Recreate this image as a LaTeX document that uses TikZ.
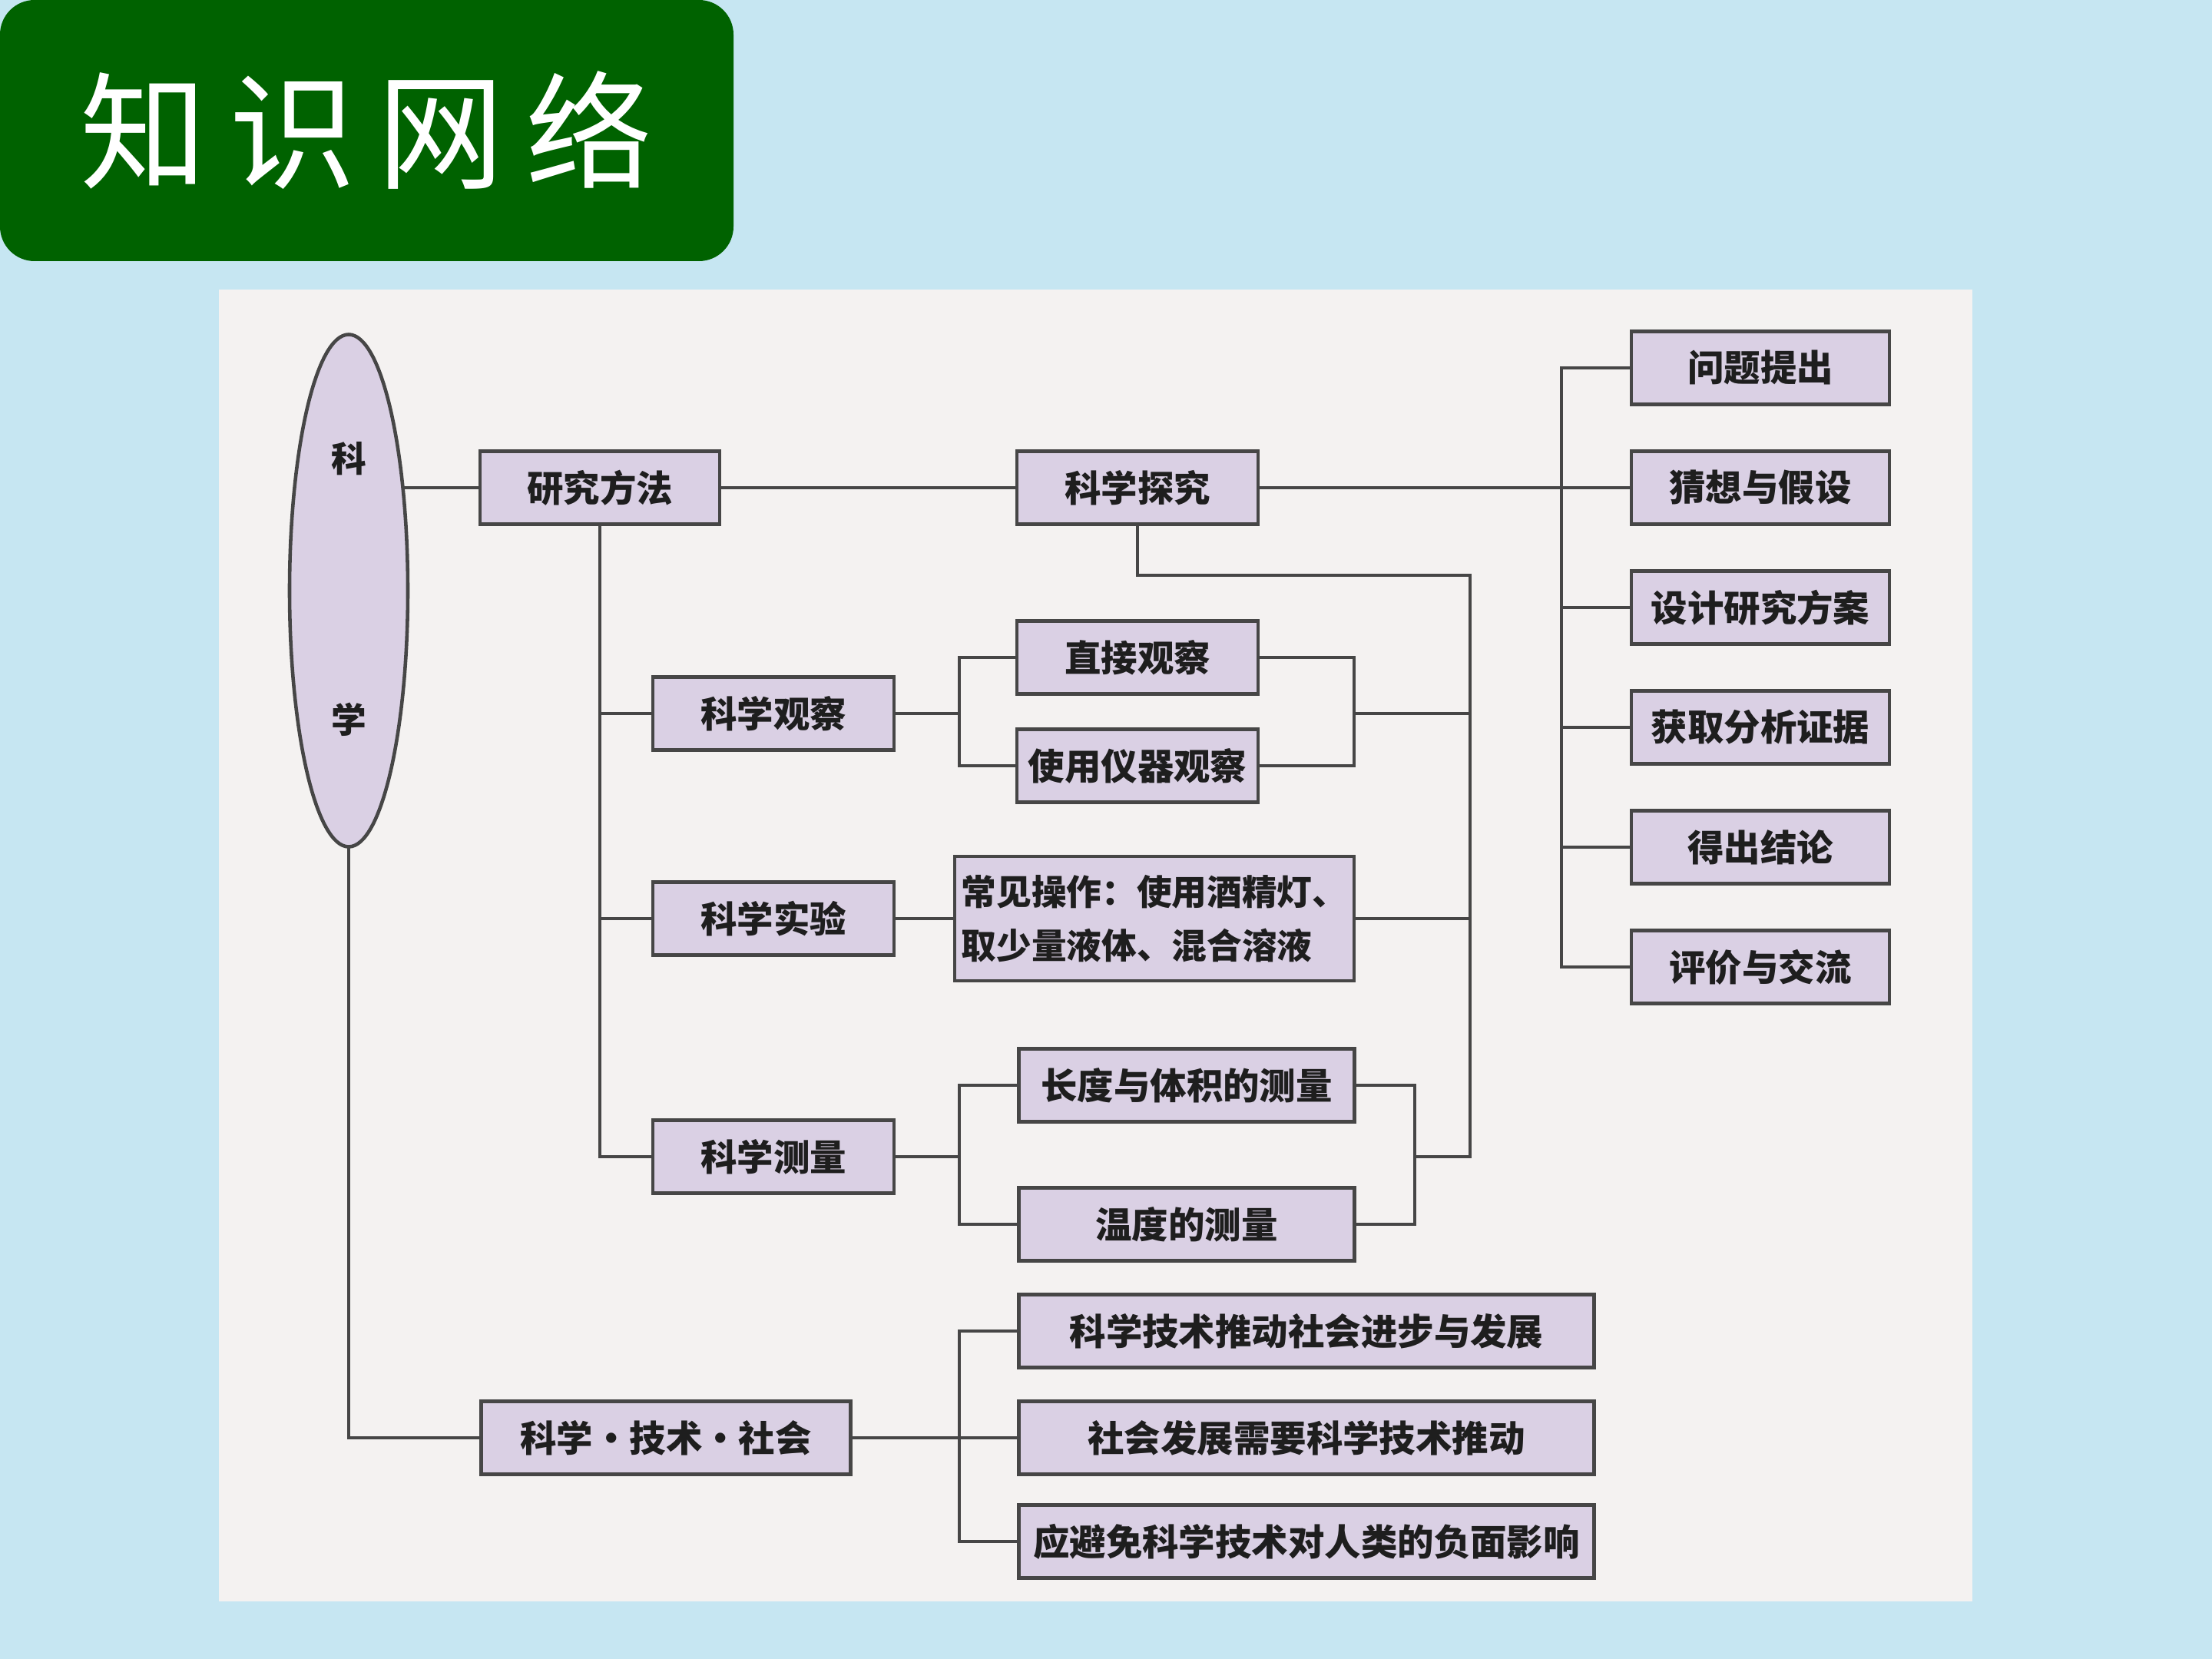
\documentclass[tikz,border=0pt]{standalone}
\usepackage{fontspec}
\newfontfamily\cjk{Noto Sans CJK SC}
\definecolor{PageColor}{RGB}{198,230,242}
\definecolor{PanelColor}{RGB}{244,242,241}
\definecolor{TitleColor}{RGB}{0,98,0}
\definecolor{BoxColor}{RGB}{218,208,228}
\definecolor{LineColor}{RGB}{70,70,70}
\definecolor{TextColor}{RGB}{30,30,30}
\usetikzlibrary{shapes.geometric, backgrounds, calc}
\tikzstyle{itembox} = [rectangle, draw=LineColor, line width=1.3pt, fill=BoxColor, minimum height=0.95cm, inner sep=2pt, text=TextColor, font=\cjk\bfseries\fontsize{13.5}{16}\selectfont]
\tikzstyle{oval} = [ellipse, draw=LineColor, line width=1.3pt, fill=BoxColor, minimum width=1.54cm, minimum height=6.67cm, inner sep=0pt]
\tikzstyle{ovaltext} = [text=TextColor, font=\cjk\bfseries\fontsize{13}{15}\selectfont]
\tikzstyle{linkline} = [line width=1pt, LineColor]

\begin{document}
\begin{tikzpicture}
            \useasboundingbox (0,0) rectangle (28.8,-21.6);

            % Title
            \node[rectangle, rounded corners=0.45cm, fill=TitleColor, minimum width=9.55cm, minimum height=3.4cm, text=white, font=\cjk\fontsize{47}{50}\selectfont] (title) at (4.775,-1.70) {知\hspace{8pt}识\hspace{8pt}网\hspace{8pt}络};

            % Science
            \node[oval] (kexue) at (4.54,-7.69) {};
            \node[ovaltext] (ke) at (4.54,-5.97) {科};
            \node[ovaltext] (xue) at (4.54,-9.37) {学};

            % Research methods
            \node[itembox, minimum width=3.12cm] (yjff) at (7.81,-6.35) {研究方法};
            \node[itembox, minimum width=3.14cm] (kxtj) at (14.81,-6.35) {科学探究};

            % Inquiry steps
            \node[itembox, minimum width=3.36cm] (r1) at (22.92,-4.79) {问题提出};
            \node[itembox, minimum width=3.36cm] (r2) at (22.92,-6.35) {猜想与假设};
            \node[itembox, minimum width=3.36cm] (r3) at (22.92,-7.91) {设计研究方案};
            \node[itembox, minimum width=3.36cm] (r4) at (22.92,-9.47) {获取分析证据};
            \node[itembox, minimum width=3.36cm] (r5) at (22.92,-11.03) {得出结论};
            \node[itembox, minimum width=3.36cm] (r6) at (22.92,-12.59) {评价与交流};

            % Observation
            \node[itembox, minimum width=3.14cm] (kxgc) at (10.07,-9.29) {科学观察};
            \node[itembox, minimum width=3.14cm] (zjgc) at (14.81,-8.56) {直接观察};
            \node[itembox, minimum width=3.14cm] (yqgc) at (14.81,-9.97) {使用仪器观察};

            % Experiment
            \node[itembox, minimum width=3.14cm] (kxsy) at (10.07,-11.96) {科学实验};
            \node[itembox, minimum width=5.2cm, minimum height=1.62cm, align=left, font=\cjk\bfseries\fontsize{13}{20}\selectfont] (cjcz) at (15.03,-11.96) {常见操作：使用酒精灯、\\取少量液体、混合溶液};

            % Measurement
            \node[itembox, minimum width=3.14cm] (kxcl) at (10.07,-15.06) {科学测量};
            \node[itembox, minimum width=4.37cm] (cdtj) at (15.45,-14.13) {长度与体积的测量};
            \node[itembox, minimum width=4.37cm] (wdcl) at (15.45,-15.94) {温度的测量};

            % Science, technology, society
            \node[itembox, minimum width=4.81cm] (sts) at (8.67,-18.72) {科学·技术·社会};
            \node[itembox, minimum width=7.49cm] (s1) at (17.01,-17.33) {科学技术推动社会进步与发展};
            \node[itembox, minimum width=7.49cm] (s2) at (17.01,-18.72) {社会发展需要科学技术推动};
            \node[itembox, minimum width=7.49cm] (s3) at (17.01,-20.07) {应避免科学技术对人类的负面影响};

            % Bus points
            \coordinate (bkA) at (12.49,-9.29);
            \coordinate (bkB) at (17.63,-9.29);
            \coordinate (coll) at (19.14,-7.49);
            \coordinate (bkC) at (18.42,-15.06);
            \coordinate (bus) at (20.33,-4.79);

            \begin{scope}[on background layer]
                \fill[PageColor] (0,0) rectangle (28.8,-21.6);
                \fill[PanelColor] (2.85,-3.77) rectangle (25.68,-20.85);

                % Main branches
                \draw[linkline] (yjff.west) -- (yjff.west -| kexue.center);
                \draw[linkline] (kexue.center) |- (sts.west);
                \draw[linkline] (yjff.east) -- (kxtj.west);
                \draw[linkline] (kxtj.east) -- (r2.west);
                \draw[linkline] (r1.west) -| (bus |- r6.west) -- (r6.west);
                \draw[linkline] (r3.west) -- (r3.west -| bus);
                \draw[linkline] (r4.west) -- (r4.west -| bus);
                \draw[linkline] (r5.west) -- (r5.west -| bus);

                % Methods trunk
                \draw[linkline] (yjff.south) |- (kxcl.west);
                \draw[linkline] (kxgc.west) -- (kxgc.west -| yjff.south);
                \draw[linkline] (kxsy.west) -- (kxsy.west -| yjff.south);

                % Observation brackets
                \draw[linkline] (kxgc.east) -- (kxgc.east -| bkA);
                \draw[linkline] (zjgc.west) -| (bkA |- yqgc.west) -- (yqgc.west);
                \draw[linkline] (zjgc.east) -| (bkB |- yqgc.east) -- (yqgc.east);
                \draw[linkline] (bkB |- kxgc.east) -- (coll |- kxgc.east);

                % Experiment
                \draw[linkline] (kxsy.east) -- (cjcz.west);
                \draw[linkline] (cjcz.east) -- (cjcz.east -| coll);

                % Collector back to inquiry
                \draw[linkline] (kxtj.south) |- (coll) |- (bkC |- kxcl.east);

                % Measurement brackets
                \draw[linkline] (kxcl.east) -- (kxcl.east -| bkA);
                \draw[linkline] (cdtj.west) -| (bkA |- wdcl.west) -- (wdcl.west);
                \draw[linkline] (cdtj.east) -| (bkC |- wdcl.east) -- (wdcl.east);

                % Society bracket
                \draw[linkline] (sts.east) -- (sts.east -| bkA);
                \draw[linkline] (s1.west) -| (bkA |- s3.west) -- (s3.west);
                \draw[linkline] (s2.west) -- (s2.west -| bkA);
            \end{scope}
        \end{tikzpicture}
\end{document}
